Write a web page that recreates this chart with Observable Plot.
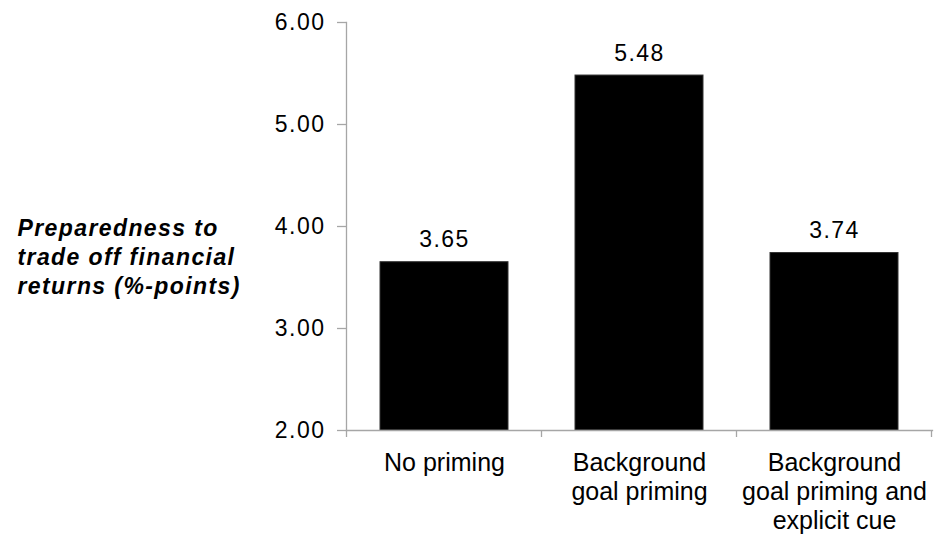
<!DOCTYPE html>
<html>
<head>
<meta charset="utf-8">
<script src="https://cdn.jsdelivr.net/npm/d3@7"></script>
<script src="https://cdn.jsdelivr.net/npm/@observablehq/plot@0.6"></script>
<style>
  html, body { margin: 0; padding: 0; background: #fff; }
  #chart svg { font-family: "Liberation Sans", Arial, sans-serif; display: block; }
</style>
</head>
<body>
<div id="chart"></div>
<script>
const categories = ["No priming", "Background goal priming", "Background goal priming and explicit cue"];
const categoryLabels = ["No priming", "Background\ngoal priming", "Background\ngoal priming and\nexplicit cue"];
const values = [3.65, 5.48, 3.74];
const yTicks = [2, 3, 4, 5, 6];
const yDomain = [2, 6];
const yTitle = "Preparedness to\ntrade off financial\nreturns (%-points)";

const data = categories.map((c, i) => ({cat: c, label: categoryLabels[i], value: values[i]}));
const axisColor = "#a6a6a6";
const padInner = 0.345;

const boundaryTicks = (index, scales, values, dims) => {
  const x = scales.x;
  const step = x.step(), bw = x.bandwidth();
  const centers = categories.map(c => x(c) + bw / 2);
  const edges = [centers[0] - step / 2, ...centers.map(c => c + step / 2)];
  const yb = dims.height - dims.marginBottom;
  const g = d3.create("svg:g").attr("stroke", axisColor).attr("stroke-width", 1.3);
  for (const e of edges) {
    g.append("line").attr("x1", e).attr("x2", e).attr("y1", yb).attr("y2", yb + 7);
  }
  return g.node();
};

const plot = Plot.plot({
  width: 937,
  height: 542,
  marginLeft: 346,
  marginRight: 5,
  marginTop: 22,
  marginBottom: 112,
  style: {fontFamily: "Liberation Sans, Arial, sans-serif", background: "#fff", color: "#000"},
  x: {domain: categories, paddingInner: padInner, paddingOuter: padInner / 2, label: null},
  y: {domain: yDomain, label: null},
  marks: [
    Plot.barY(data, {x: "cat", y1: yDomain[0], y2: "value", fill: "#000", stroke: "#333", strokeWidth: 1}),
    Plot.frame({anchor: "left", stroke: axisColor, strokeWidth: 1.3}),
    Plot.frame({anchor: "bottom", stroke: axisColor, strokeWidth: 1.3}),
    boundaryTicks,
    Plot.axisY({ticks: yTicks, tickFormat: d3.format(".2f"), tickSize: 9, tickPadding: 12, fontSize: 23, stroke: axisColor, fill: "#000", strokeWidth: 1.3, label: null}),
    Plot.axisX({tickSize: 0, tickPadding: 20, fontSize: 25, lineHeight: 1.16, fill: "#000",
      tickFormat: c => data.find(d => d.cat === c).label, label: null, textOverflow: null}),
    Plot.text(data, {x: "cat", y: "value", text: d => d.value.toFixed(2), dy: -15, lineAnchor: "bottom", fontSize: 23, fill: "#000"}),
    Plot.text([yTitle], {frameAnchor: "left", text: d => d, dx: -329, dy: 29, textAnchor: "start", lineAnchor: "middle", lineHeight: 1.26, fontSize: 23, fontWeight: "bold", fontStyle: "italic", fill: "#000"})
  ]
});
const sel = d3.select(plot);
sel.selectAll("text").filter(function () { return /^\d\.\d\d$/.test(this.textContent.trim()); })
  .style("letter-spacing", "1.5px");
sel.selectAll('g[font-style="italic"] text').style("letter-spacing", "1.4px");
document.getElementById("chart").append(plot);
</script>
</body>
</html>
